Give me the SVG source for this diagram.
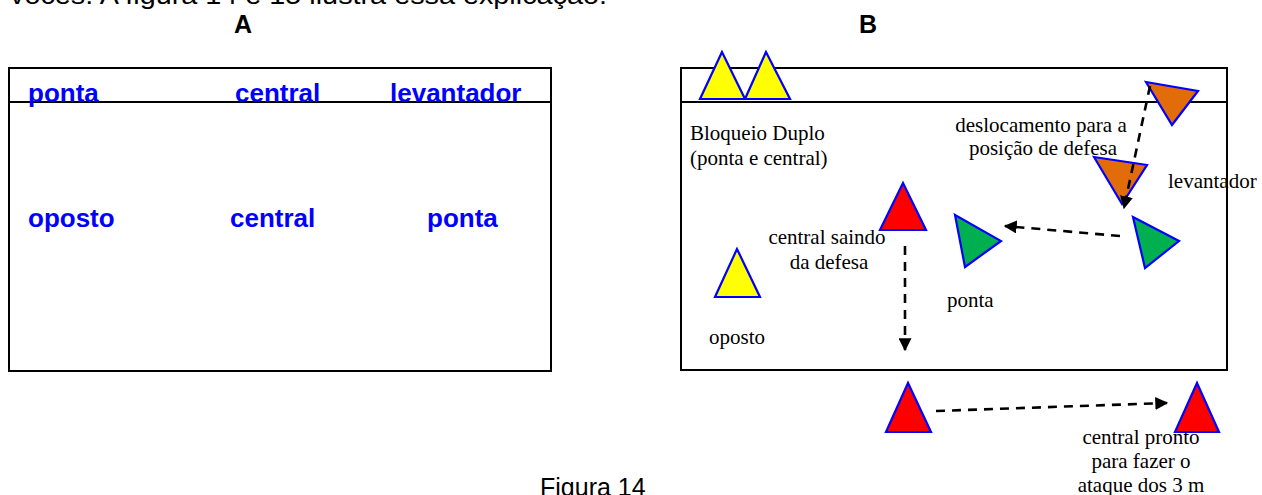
<svg xmlns="http://www.w3.org/2000/svg" width="1262" height="495" viewBox="0 0 1262 495">
<style>
.court{fill:none;stroke:#000;stroke-width:2}
.net{stroke:#000;stroke-width:2}
.lblA{font-family:"Liberation Sans",Arial,sans-serif;font-weight:bold;font-size:26px;fill:#0000FF}
.hdr{font-family:"Liberation Sans",Arial,sans-serif;font-weight:bold;font-size:25px;fill:#000}
.body{font-family:"Liberation Sans",Arial,sans-serif;font-size:25px;fill:#000}
.ser{font-family:"Liberation Serif","Times New Roman",serif;font-size:21px;fill:#000}
.tri{stroke:#0000FF;stroke-width:2.2}
.y{fill:#FFFF00}.r{fill:#FF0000}.g{fill:#00B050}.o{fill:#E26B0A}
.dash{fill:none;stroke:#000;stroke-width:2.6;stroke-dasharray:9,7}
</style>
<defs>
<marker id="ah" viewBox="0 0 10 10" refX="9" refY="5" markerWidth="5" markerHeight="5" markerUnits="strokeWidth" orient="auto">
<path d="M0,0 L10,5 L0,10 z" fill="#000"/>
</marker>
</defs>
<rect width="1262" height="495" fill="#fff"/>
<text class="body" x="10" y="4" textLength="597" lengthAdjust="spacingAndGlyphs">vocês. A figura 14 e 15 ilustra essa explicação.</text>
<text class="hdr" x="243" y="33" text-anchor="middle">A</text>
<text class="hdr" x="868" y="33" text-anchor="middle">B</text>

<g id="panelA">
<rect class="court" x="9" y="68" width="542" height="303"/>
<line class="net" x1="9" y1="102" x2="551" y2="102"/>
<text class="lblA" x="28" y="102">ponta</text>
<text class="lblA" x="235" y="102">central</text>
<text class="lblA" x="390" y="102">levantador</text>
<text class="lblA" x="28" y="227">oposto</text>
<text class="lblA" x="230" y="227">central</text>
<text class="lblA" x="427" y="227">ponta</text>
</g>

<g id="panelB">
<rect class="court" x="681" y="68" width="546" height="302"/>
<line class="net" x1="681" y1="102" x2="1227" y2="102"/>
</g>

<g id="block">
<polygon class="tri y" points="722,52 700,99 745,99"/>
<polygon class="tri y" points="766,52 745,99 790,99"/>
<text class="ser" x="690" y="140">Bloqueio Duplo</text>
<text class="ser" x="690" y="165">(ponta e central)</text>
</g>

<g id="setter">
<polygon class="tri o" points="1146,82 1198,91 1172,125"/>
<polygon class="tri o" points="1094,157 1147,165 1122,204"/>
<text class="ser" x="1041" y="132" text-anchor="middle">deslocamento para a</text>
<text class="ser" x="1043" y="155" text-anchor="middle">posição de defesa</text>
<text class="ser" x="1168" y="188">levantador</text>
</g>

<g id="central">
<polygon class="tri r" points="903,183 880,230 926,230"/>
<text class="ser" x="827" y="244" text-anchor="middle">central saindo</text>
<text class="ser" x="829" y="269" text-anchor="middle">da defesa</text>
</g>

<g id="ponta">
<polygon class="tri g" points="955,215 1001,241 965,267"/>
<polygon class="tri g" points="1133,217 1179,241 1145,268"/>
<text class="ser" x="947" y="307">ponta</text>
</g>

<g id="oposto">
<polygon class="tri y" points="737,249 715,297 760,297"/>
<text class="ser" x="709" y="344">oposto</text>
</g>

<g id="attack">
<polygon class="tri r" points="908,383 886,432 931,432"/>
<polygon class="tri r" points="1197,383 1175,432 1219,432"/>
<text class="ser" x="1141" y="444" text-anchor="middle">central pronto</text>
<text class="ser" x="1141" y="468" text-anchor="middle">para fazer o</text>
<text class="ser" x="1141" y="492" text-anchor="middle">ataque dos 3 m</text>
</g>

<g id="connectors">
<path class="dash" d="M1150,86 L1124,208" marker-end="url(#ah)"/>
<path class="dash" d="M1120,236 L1005,226" marker-end="url(#ah)"/>
<path class="dash" d="M905,246 L905,350" marker-end="url(#ah)"/>
<path class="dash" d="M936,411 L1167,403" marker-end="url(#ah)"/>
</g>

<text class="body" x="540" y="496" font-size="21">Figura 14</text>
</svg>
